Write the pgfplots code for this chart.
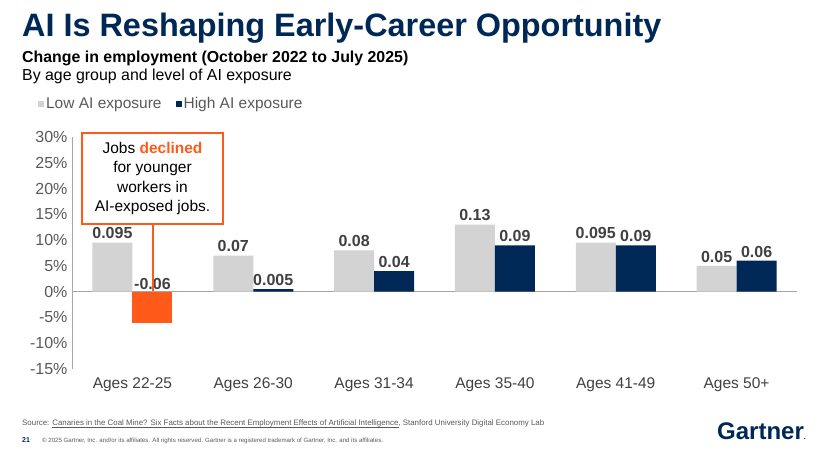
\documentclass[border=0pt]{standalone}
\usepackage{pgfplots}
\pgfplotsset{compat=1.18}
\usepackage{fontspec}
\setmainfont{Liberation Sans}
\definecolor{navy}{HTML}{002856}
\definecolor{lowgray}{HTML}{D3D3D3}
\definecolor{gorange}{HTML}{FF5A1A}
\definecolor{tickgray}{HTML}{595959}
\definecolor{labgray}{HTML}{404040}
\definecolor{axgray}{HTML}{A6A6A6}
\newcommand\ul[1]{\setbox0\hbox{#1}\rlap{\rule[-1.2pt]{\wd0}{0.4pt}}\box0}

\begin{document}
\begin{tikzpicture}[x=1pt,y=1pt]
\useasboundingbox (0,0) rectangle (825,450);

% titles
\node[anchor=base west, inner sep=0, text=navy,
  font=\fontsize{32.4}{32.4}\bfseries\selectfont] at (22,413) {AI Is Reshaping Early-Career Opportunity};
\node[anchor=base west, inner sep=0, text=black,
  font=\fontsize{15.9}{15.9}\bfseries\selectfont] at (22,387) {Change in employment (October 2022 to July 2025)};
\node[anchor=base west, inner sep=0, text=black,
  font=\fontsize{15.9}{15.9}\selectfont] at (22,369) {By age group and level of AI exposure};

\begin{axis}[
  at={(72pt,81pt)}, anchor=south west,
  scale only axis, width=725pt, height=232pt,
  xmin=-0.5, xmax=5.5, ymin=-0.15, ymax=0.30,
  ybar=0pt, bar width=40pt,
  axis lines=left,
  x axis line style={draw=none},
  y axis line style={-, draw=axgray, line width=1pt},
  major tick length=0pt,
  xtick={0,...,5},
  xticklabels={Ages 22-25, Ages 26-30, Ages 31-34, Ages 35-40, Ages 41-49, Ages 50+},
  ytick={-0.15,-0.10,-0.05,0,0.05,0.10,0.15,0.20,0.25,0.30},
  yticklabel={\pgfmathparse{\tick*100}\pgfmathprintnumber[fixed,precision=0]{\pgfmathresult}\%},
  /pgf/number format/assume math mode=true,
  y tick label style={font=\fontsize{16}{16}\selectfont, text=tickgray, xshift=-1pt},
  x tick label style={font=\fontsize{15.5}{15.5}\selectfont, text=labgray, yshift=-5pt},
  clip=false,
  nodes near coords={\pgfmathprintnumber[fixed,precision=3]{\pgfplotspointmeta}},
  every node near coord/.append style={font=\fontsize{16}{16}\bfseries\selectfont, text=labgray},
  legend style={at={(-0.047,1.142)}, anchor=west, draw=none, fill=none, inner sep=0pt,
    legend columns=-1, font=\fontsize{15.5}{15.5}\selectfont, text=tickgray,
    /tikz/every even column/.append style={column sep=12pt}},
  legend image code/.code={\fill[#1] (0pt,-3pt) rectangle (6pt,3pt);},
]
\draw[axgray, line width=1pt] (axis cs:-0.5,0) -- (axis cs:5.5,0);

\addplot[bar shift=-20pt, fill=lowgray, draw=none]
  coordinates {(0,0.095) (1,0.07) (2,0.08) (3,0.13) (4,0.095) (5,0.05)};
\addplot[bar shift=20pt, fill=navy, draw=none]
  coordinates {(1,0.005) (2,0.04) (3,0.09) (4,0.09) (5,0.06)};
\addplot[bar shift=20pt, fill=gorange, draw=none, forget plot,
  nodes near coords={}]
  coordinates {(0,-0.06)};
\node[anchor=south, inner sep=2pt, font=\fontsize{16}{16}\bfseries\selectfont, text=labgray]
  at ([xshift=20pt]axis cs:0,0) {-0.06};

\legend{Low AI exposure, High AI exposure}
\end{axis}

% callout
\draw[gorange, line width=1.5pt] (153,226) -- (153,158.5);
\node[draw=gorange, line width=1.5pt, fill=white, minimum width=141pt, minimum height=91pt,
  inner sep=0pt, align=center, text=black, font=\fontsize{15.5}{19.5}\selectfont]
  at (152.5,271.5) {Jobs {\bfseries\color{gorange}declined}\\for younger\\workers in\\AI-exposed jobs.};

% footer
\node[anchor=base west, inner sep=0, text=tickgray, font=\fontsize{7.9}{7.9}\selectfont] at (22,24)
  {Source: \ul{Canaries in the Coal Mine? Six Facts about the Recent Employment Effects of Artificial Intelligence}, Stanford University Digital Economy Lab};
\node[anchor=base west, inner sep=0, text=navy, font=\fontsize{7}{7}\bfseries\selectfont] at (22,8) {21};
\node[anchor=base west, inner sep=0, text=tickgray, font=\fontsize{6.1}{6.1}\selectfont] at (42,8)
  {\copyright{} 2025 Gartner, Inc. and/or its affiliates. All rights reserved. Gartner is a registered trademark of Gartner, Inc. and its affiliates.};
\node[anchor=base east, inner sep=0, text=navy, font=\fontsize{24}{24}\bfseries\selectfont] at (806,10)
  {Gartner{\fontsize{7}{7}\selectfont.}};
\end{tikzpicture}
\end{document}
